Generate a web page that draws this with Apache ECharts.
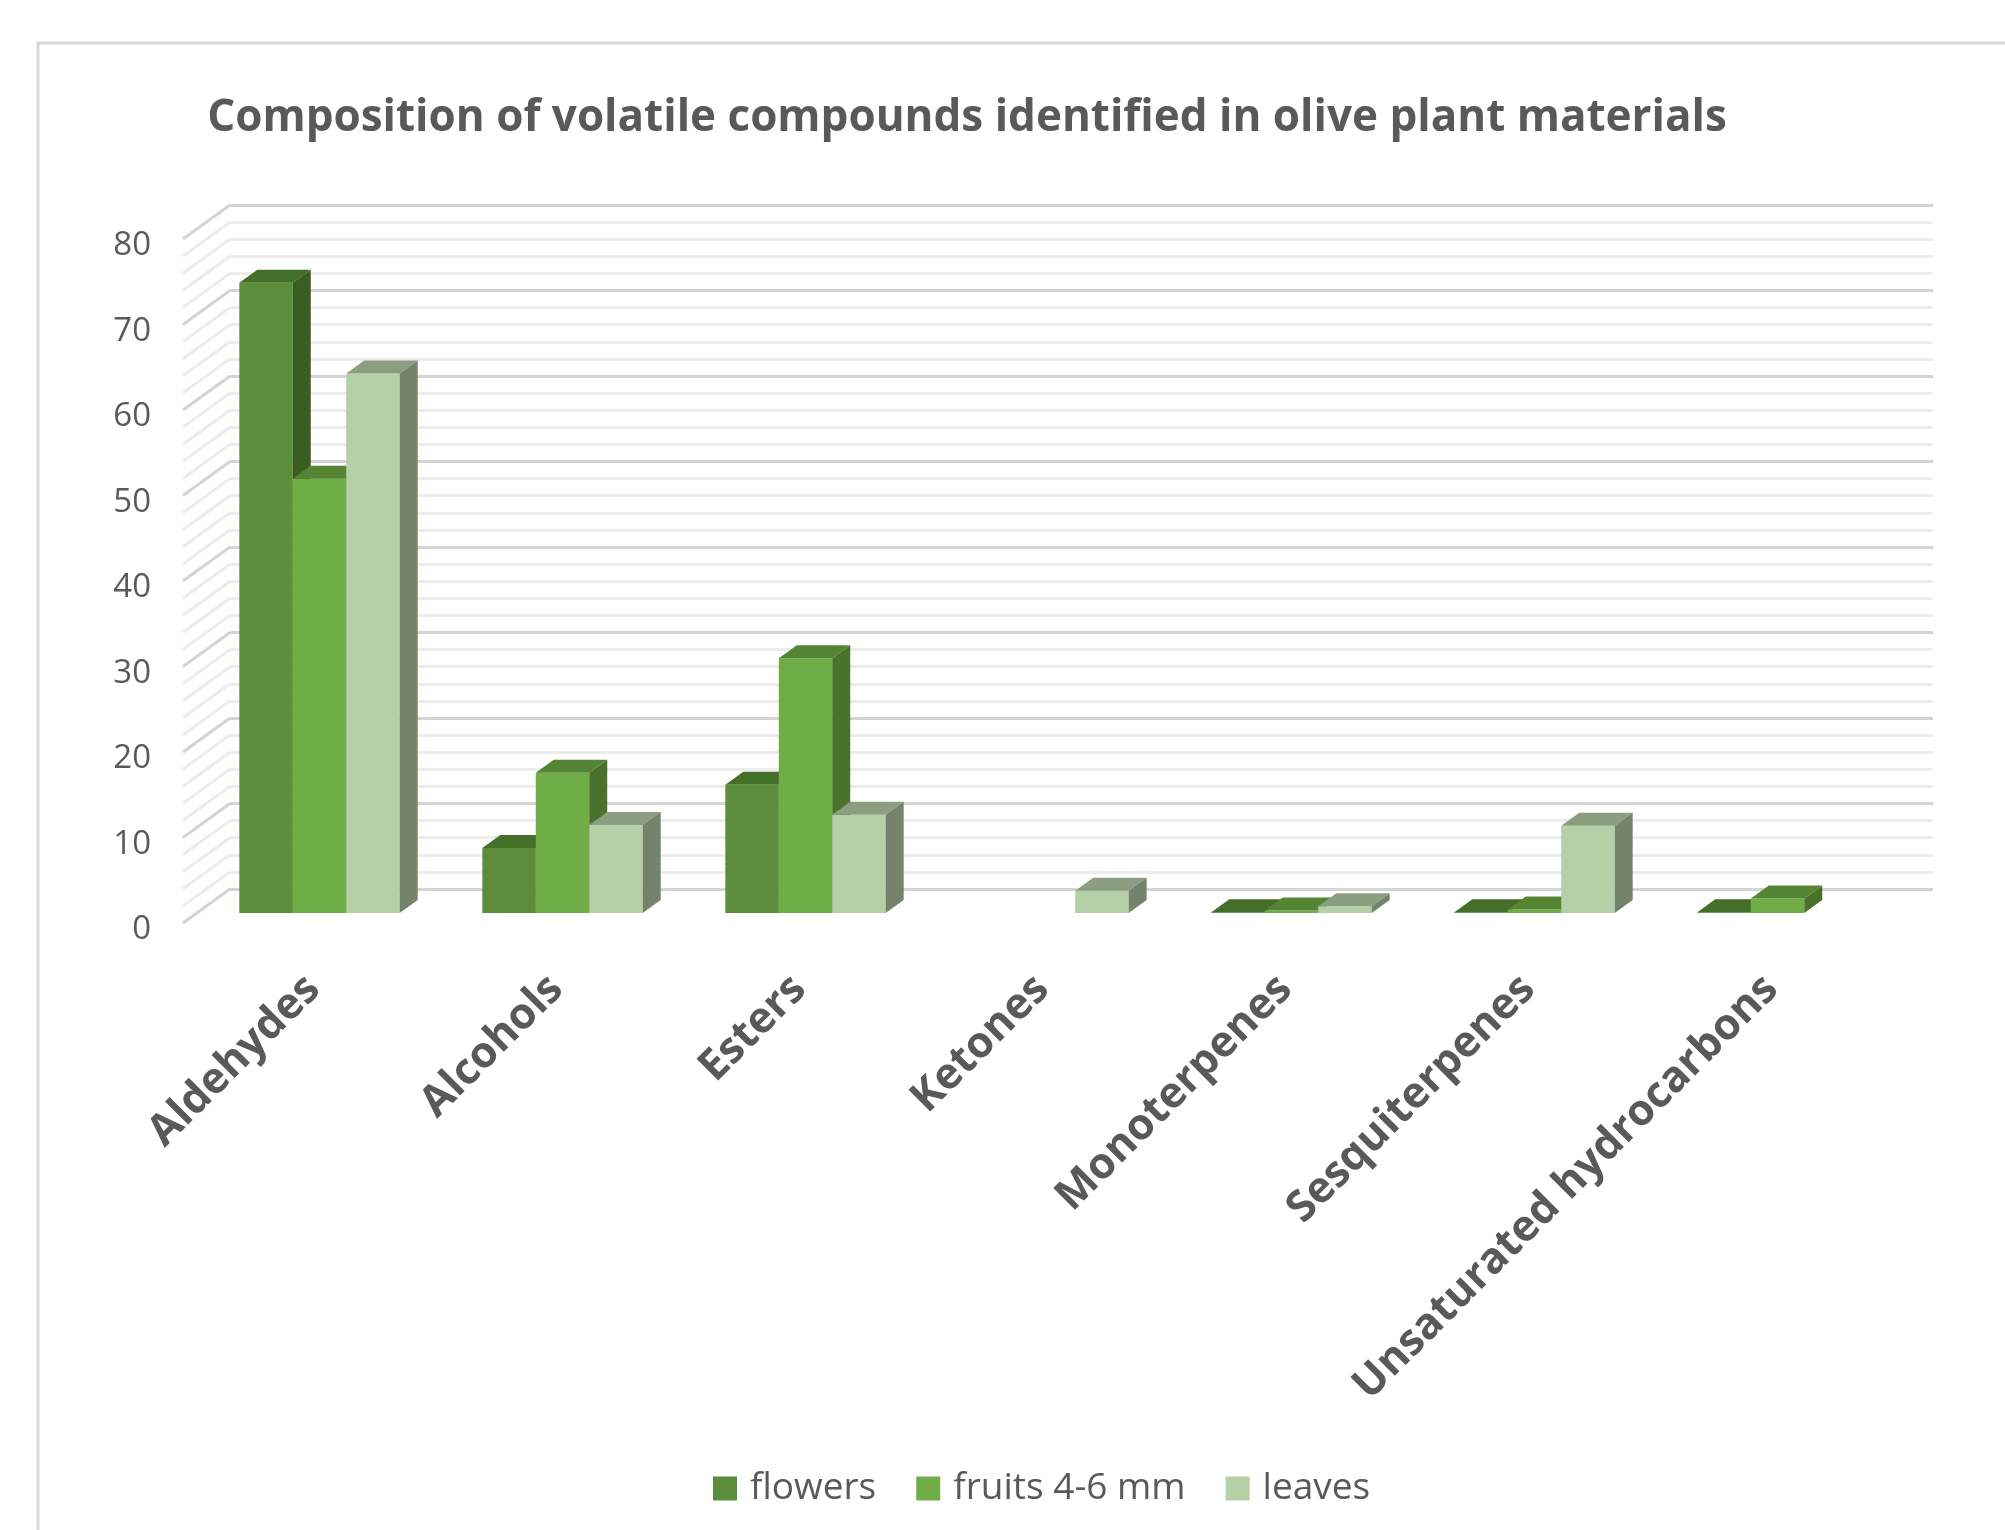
<!DOCTYPE html>
<html>
<head>
<meta charset="utf-8">
<style>
html,body{margin:0;padding:0;background:#fff;}
#chart{width:2005px;height:1530px;}
</style>
<script src="https://cdn.jsdelivr.net/npm/echarts@6/dist/echarts.min.js"></script>
</head>
<body>
<div id="chart"></div>
<script>
// ---- data ----
var categories = ['Aldehydes', 'Alcohols', 'Esters', 'Ketones', 'Monoterpenes', 'Sesquiterpenes', 'Unsaturated hydrocarbons'];
var seriesNames = ['flowers', 'fruits 4-6 mm', 'leaves'];
var flowers = [73.7, 7.6, 15.0, null, 0.1, 0.1, 0.1];
var fruits = [50.8, 16.4, 29.8, null, 0.3, 0.4, 1.7];
var leaves = [63.1, 10.3, 11.5, 2.6, 0.8, 10.2, null];
var yTicks = [0, 10, 20, 30, 40, 50, 60, 70, 80];
var wallLevels = [0, 2, 4, 6, 8, 10, 12, 14, 16, 18, 20, 22, 24, 26, 28, 30, 32, 34, 36, 38, 40, 42, 44, 46, 48, 50, 52, 54, 56, 58, 60, 62, 64, 66, 68, 70, 72, 74, 76, 78, 80];

// ---- styles ----
var FONT = '"Open Sans", "Noto Sans", sans-serif';
var TXT = '#595959';
var faceColors = [
  {front: '#5b8d3a', top: '#446f28', side: '#3a5d22'},
  {front: '#70ad47', top: '#558534', side: '#4a722c'},
  {front: '#b5cfa7', top: '#8b9f80', side: '#74846b'}
];
var BAR_DX = 18, BAR_DY = -13;   // bar depth offset
var WALL_DX = -47, WALL_DY = 34; // back wall -> front edge offset
var BAR_FRAC = 0.22;

function barRenderer(si) {
  return function (params, api) {
    var v = api.value(1);
    if (v == null || isNaN(v)) return;
    var c = api.value(0);
    var base = api.coord([c, 0]);
    var top = api.coord([c, v]);
    var band = api.size([1, 0])[0];
    var bw = band * BAR_FRAC;
    var x0 = base[0] - 1.5 * bw + si * bw;
    var x1 = x0 + bw;
    var yb = base[1], yt = top[1];
    var col = faceColors[si];
    return {
      type: 'group',
      children: [
        {type: 'rect', shape: {x: x0, y: yt, width: bw, height: yb - yt}, style: {fill: col.front}},
        {type: 'polygon', shape: {points: [[x0, yt], [x1, yt], [x1 + BAR_DX, yt + BAR_DY], [x0 + BAR_DX, yt + BAR_DY]]}, style: {fill: col.top}},
        {type: 'polygon', shape: {points: [[x1, yt], [x1 + BAR_DX, yt + BAR_DY], [x1 + BAR_DX, yb + BAR_DY], [x1, yb]]}, style: {fill: col.side}}
      ]
    };
  };
}

function wallRenderer(params, api) {
  var v = api.value(0);
  var p = api.coord([0, v]);
  var major = (v % 10 === 0);
  return {
    type: 'line',
    shape: {x1: p[0], y1: p[1], x2: p[0] + WALL_DX, y2: p[1] + WALL_DY},
    style: {stroke: major ? '#d4d4d4' : '#ececec', lineWidth: 3}
  };
}

var seriesData = [flowers, fruits, leaves];
var series = [];
seriesData.forEach(function (arr, si) {
  series.push({
    name: seriesNames[si],
    type: 'custom',
    xAxisIndex: 0, yAxisIndex: 0,
    renderItem: barRenderer(si),
    itemStyle: {color: faceColors[si].front},
    encode: {x: 0, y: 1},
    data: arr.map(function (v, i) { return [i, v]; }),
    z: 10 + si,
    silent: true
  });
});
series.push({
  type: 'custom',
  xAxisIndex: 1, yAxisIndex: 1,
  renderItem: wallRenderer,
  data: wallLevels.map(function (v) { return [v]; }),
  encode: {y: 0},
  z: 1,
  silent: true
});

var chart = echarts.init(document.getElementById('chart'), null, {renderer: 'canvas'});
chart.setOption({
  backgroundColor: '#fff',
  animation: false,
  title: {
    text: 'Composition of volatile compounds identified in olive plant materials',
    left: 962, top: 91, textAlign: 'center',
    textStyle: {fontFamily: FONT, fontWeight: 'bold', fontSize: 44, color: TXT}
  },
  graphic: [{
    type: 'rect', shape: {x: 38, y: 43, width: 2100, height: 1600},
    style: {fill: 'none', stroke: '#d9d9d9', lineWidth: 3}, z: -1, silent: true
  }],
  legend: {
    data: seriesNames,
    left: 708, top: 1465,
    icon: 'rect', itemWidth: 24, itemHeight: 24, itemGap: 40,
    textStyle: {fontFamily: FONT, fontSize: 37, color: TXT, padding: [0, 0, 0, 8]}
  },
  grid: [
    {left: 198, top: 229, width: 1701, height: 684},   // bar plane
    {left: 230, top: 205, width: 1703, height: 684},   // back wall
    {left: 183, top: 246, width: 10, height: 684}      // front edge (labels)
  ],
  xAxis: [
    {gridIndex: 0, type: 'category', data: categories, boundaryGap: true,
     axisLine: {show: false}, axisTick: {show: false}, splitLine: {show: false},
     axisLabel: {rotate: 45, interval: 0, margin: 63, padding: [0, 9, 0, 0], fontFamily: FONT, fontWeight: 'bold', fontSize: 43, color: TXT}},
    {gridIndex: 1, type: 'value', min: 0, max: 1, show: false},
    {gridIndex: 2, type: 'value', min: 0, max: 1, show: false}
  ],
  yAxis: [
    {gridIndex: 0, type: 'value', min: 0, max: 80, interval: 10, show: false},
    {gridIndex: 1, type: 'value', min: 0, max: 80, interval: 10,
     axisLine: {show: false}, axisTick: {show: false}, axisLabel: {show: false},
     splitLine: {show: true, lineStyle: {color: '#d4d4d4', width: 3}},
     minorTick: {show: false, splitNumber: 5},
     minorSplitLine: {show: true, lineStyle: {color: '#ececec', width: 3}}},
    {gridIndex: 2, type: 'value', min: 0, max: 80, interval: 10,
     axisLine: {show: false}, axisTick: {show: false}, splitLine: {show: false},
     axisLabel: {margin: 32, fontFamily: FONT, fontSize: 33, color: TXT,
       formatter: function (v) { return yTicks.indexOf(v) >= 0 ? String(v) : ''; }}}
  ],
  series: series
});
</script>
</body>
</html>
